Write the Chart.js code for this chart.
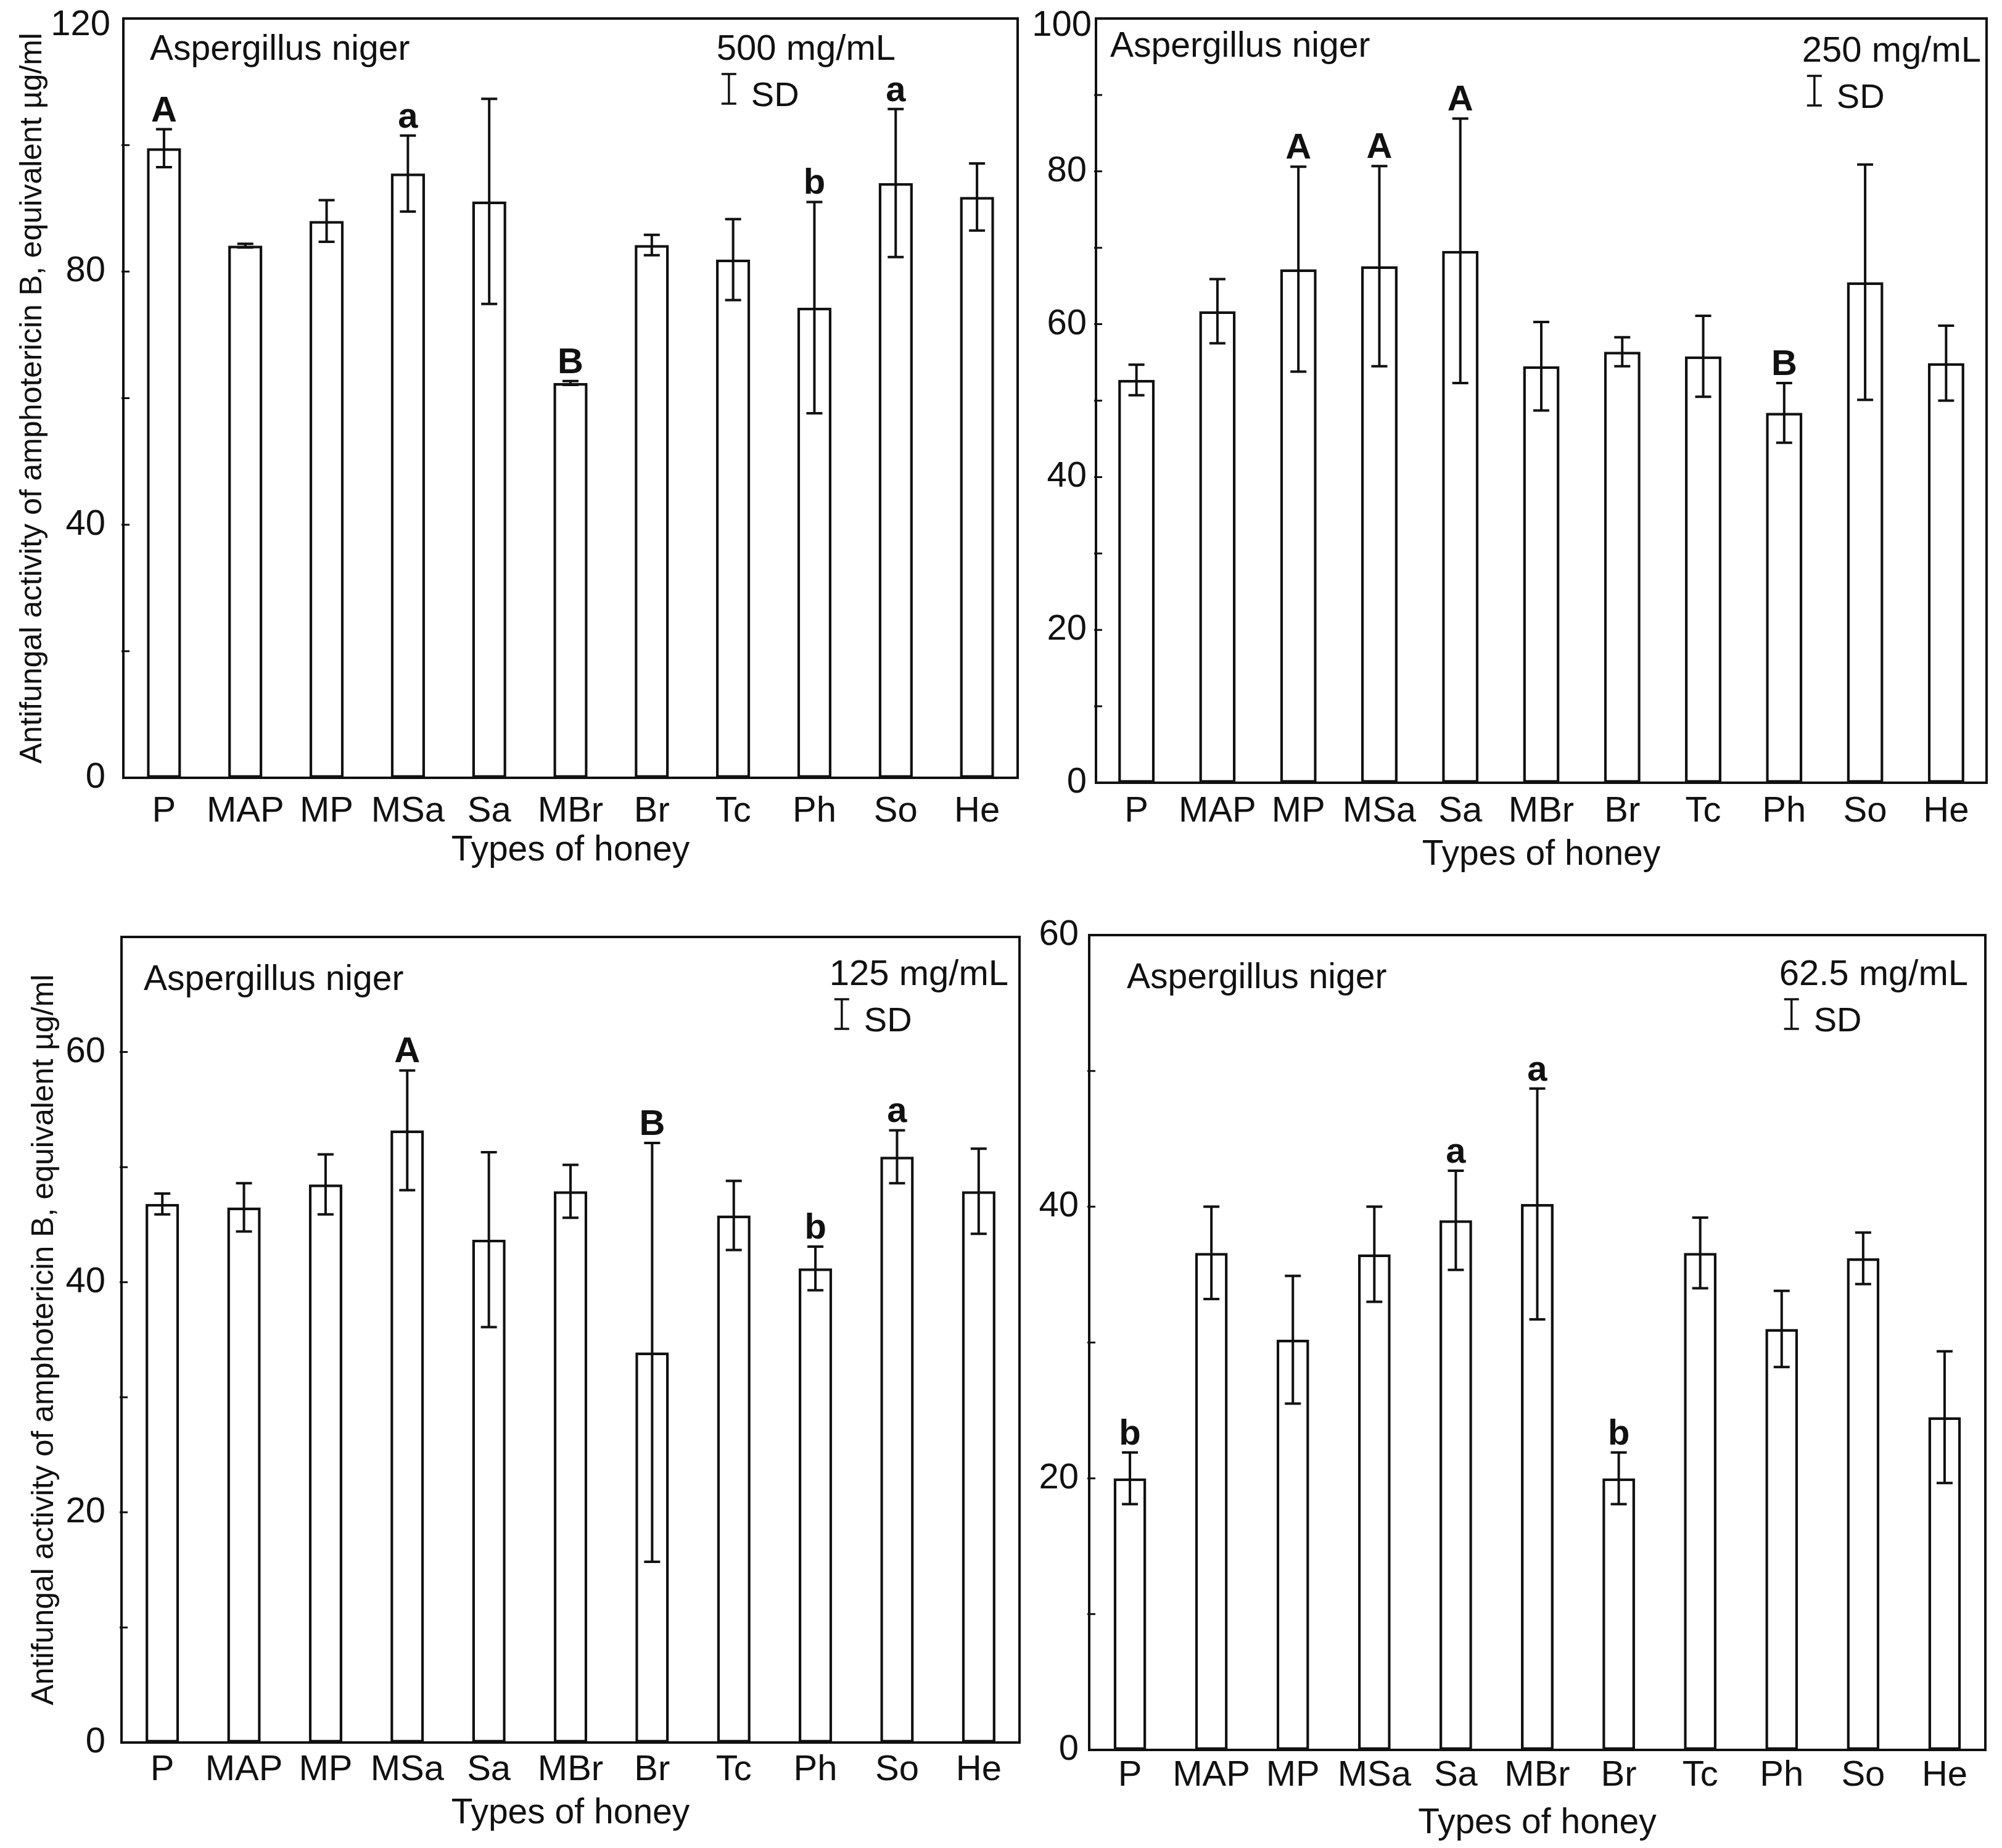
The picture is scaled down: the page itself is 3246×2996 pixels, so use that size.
<!DOCTYPE html>
<html><head><meta charset="utf-8">
<script src="https://cdn.jsdelivr.net/npm/chart.js@4/dist/chart.umd.min.js"></script>
<style>
html,body{margin:0;padding:0;background:#fff;}
#wrap{position:relative;width:3246px;height:2996px;background:#fff;}
canvas{position:absolute;}
</style>
</head><body><div id="wrap">
<canvas id="c1" width="1660" height="1440" style="left:0px;top:0px;width:1660px;height:1440px"></canvas>
<canvas id="c2" width="1586" height="1440" style="left:1660px;top:0px;width:1586px;height:1440px"></canvas>
<canvas id="c3" width="1660" height="1556" style="left:0px;top:1440px;width:1660px;height:1556px"></canvas>
<canvas id="c4" width="1586" height="1556" style="left:1660px;top:1440px;width:1586px;height:1556px"></canvas>
</div>
<script>
// ---------- DATA ----------
const categories = ['P','MAP','MP','MSa','Sa','MBr','Br','Tc','Ph','So','He'];
const species = 'Aspergillus niger';
const yTitle = 'Antifungal activity of amphotericin B, equivalent µg/ml';
const xTitle = 'Types of honey';
const sdLabel = 'SD';

const conc500 = '500 mg/mL';
const mean500 = [99.5, 84.1, 88.0, 95.5, 91.1, 62.4, 84.2, 81.9, 74.3, 94.0, 91.8];
const sd500   = [3.0, 0.3, 3.3, 6.0, 16.2, 0.3, 1.6, 6.4, 16.7, 11.7, 5.3];
const letters500 = ['A','','','a','','B','','','b','a',''];
const yMax500 = 120;
const yMajor500 = [0, 40, 80, 120];
const yMinor500 = [20, 60, 100];

const conc250 = '250 mg/mL';
const mean250 = [52.7, 61.7, 67.2, 67.6, 69.6, 54.5, 56.4, 55.8, 48.4, 65.5, 54.9];
const sd250   = [2.0, 4.2, 13.4, 13.1, 17.3, 5.8, 1.9, 5.3, 3.9, 15.4, 4.9];
const letters250 = ['','','A','A','A','','','','B','',''];
const yMax250 = 100;
const yMajor250 = [0, 20, 40, 60, 80, 100];
const yMinor250 = [10, 30, 50, 70, 90];

const conc125 = '125 mg/mL';
const mean125 = [46.8, 46.5, 48.5, 53.2, 43.7, 47.9, 33.9, 45.8, 41.2, 50.9, 47.9];
const sd125   = [0.9, 2.1, 2.6, 5.2, 7.6, 2.3, 18.2, 3.0, 1.9, 2.3, 3.7];
const letters125 = ['','','','A','','','B','','b','a',''];
const yMax125 = 70;
const yMajor125 = [0, 20, 40, 60];
const yMinor125 = [10, 30, 50];

const conc62 = '62.5 mg/mL';
const mean62 = [20.0, 36.6, 30.2, 36.5, 39.0, 40.2, 20.0, 36.6, 31.0, 36.2, 24.5];
const sd62   = [1.9, 3.4, 4.7, 3.5, 3.65, 8.5, 1.9, 2.6, 2.8, 1.9, 4.85];
const letters62 = ['b','','','','a','a','b','','','',''];
const yMax62 = 60;
const yMajor62 = [0, 20, 40, 60];
const yMinor62 = [10, 30, 50];

// ---------- RENDER ----------
const FONT = '"Liberation Sans", Arial, Helvetica, sans-serif';
const INK = '#111';
Chart.defaults.font.family = FONT;
Chart.defaults.color = INK;

function makePanel(id, d, L) {
  const annot = {
    id: 'annot_' + id,
    afterDatasetsDraw(chart) {
      const ctx = chart.ctx, ca = chart.chartArea, ys = chart.scales.y;
      const meta = chart.getDatasetMeta(0);
      ctx.save();
      ctx.strokeStyle = INK; ctx.fillStyle = INK;
      // error bars + letters
      ctx.lineWidth = 4;
      d.mean.forEach((m, i) => {
        const px = meta.data[i].x;
        const top = ys.getPixelForValue(m + d.sd[i]);
        const bot = ys.getPixelForValue(m - d.sd[i]);
        ctx.beginPath();
        ctx.moveTo(px, top); ctx.lineTo(px, bot);
        ctx.moveTo(px - 13, top); ctx.lineTo(px + 13, top);
        ctx.moveTo(px - 13, bot); ctx.lineTo(px + 13, bot);
        ctx.stroke();
        if (d.letters[i]) {
          ctx.font = 'bold 58px ' + FONT;
          ctx.textAlign = 'center'; ctx.textBaseline = 'alphabetic';
          ctx.fillText(d.letters[i], px, top - 13);
        }
      });
      // tick marks (crossing the left axis, mostly inward)
      ctx.lineWidth = 3;
      ctx.beginPath();
      ys.ticks.forEach(t => {
        if (t.value > 0 && t.value < d.yMax) {
          const py = ys.getPixelForValue(t.value);
          ctx.moveTo(ca.left - 3, py); ctx.lineTo(ca.left + 10, py);
        }
      });
      ctx.stroke();
      // top tick label, nudged down inside the page as in the original
      if (L.topShift) {
        ctx.font = '58px ' + FONT;
        ctx.textAlign = 'right'; ctx.textBaseline = 'middle';
        ctx.fillText(String(d.yMax), ca.left - L.yPad, ys.getPixelForValue(d.yMax) + L.topShift);
      }
      // frame
      ctx.lineWidth = 4;
      ctx.strokeRect(ca.left, ca.top, ca.right - ca.left, ca.bottom - ca.top);
      // texts
      ctx.textBaseline = 'alphabetic';
      ctx.font = '57px ' + FONT;
      ctx.textAlign = 'left';
      ctx.fillText(species, ca.left + L.spX, ca.top + L.spY);
      ctx.font = '58px ' + FONT;
      ctx.textAlign = 'right';
      ctx.fillText(d.conc, ca.right - L.cX, ca.top + L.cY);
      const cw = ctx.measureText(d.conc).width;
      const cLeft = ca.right - L.cX - cw;
      const b2 = ca.top + L.cY + 75;
      const ix = cLeft + 20;
      ctx.lineWidth = 3.5;
      ctx.beginPath();
      ctx.moveTo(ix, b2 - 52); ctx.lineTo(ix, b2 - 4);
      ctx.moveTo(ix - 12, b2 - 52); ctx.lineTo(ix + 12, b2 - 52);
      ctx.moveTo(ix - 12, b2 - 4); ctx.lineTo(ix + 12, b2 - 4);
      ctx.stroke();
      ctx.textAlign = 'left';
      ctx.font = '56px ' + FONT;
      ctx.fillText(sdLabel, ix + 36, b2);
      ctx.restore();
    }
  };

  return new Chart(document.getElementById(id), {
    type: 'bar',
    data: {
      labels: categories,
      datasets: [{
        data: d.mean,
        backgroundColor: '#ffffff',
        borderColor: INK,
        borderWidth: 4.5,
        borderSkipped: false,
        barPercentage: L.barPct,
        categoryPercentage: 1.0
      }]
    },
    options: {
      responsive: false,
      devicePixelRatio: 1,
      animation: false,
      events: [],
      layout: { padding: { top: L.padTop, right: L.padRight, left: 0, bottom: 0 } },
      plugins: { legend: { display: false }, tooltip: { enabled: false } },
      scales: {
        x: {
          grid: { display: false },
          border: { display: false },
          ticks: { autoSkip: false, maxRotation: 0, padding: L.xPad,
                   font: { size: 58, lineHeight: 1 }, color: INK },
          title: { display: true, text: xTitle, color: INK,
                   font: { size: 57, lineHeight: 1 }, padding: { top: 0, bottom: L.xtPad } },
          afterFit(s) { s.height = L.xH; }
        },
        y: {
          min: 0, max: d.yMax,
          grid: { display: false },
          border: { display: false },
          afterBuildTicks(s) {
            s.ticks = d.major.concat(d.minor).sort((a, b) => a - b).map(v => ({ value: v }));
          },
          ticks: {
            autoSkip: false, padding: L.yPad, color: INK,
            font: { size: 58, lineHeight: 0.1 },
            callback: (v) => (d.major.includes(v) && !(L.topShift && v === d.yMax)) ? String(v) : ''
          },
          title: { display: L.showYTitle, text: yTitle, color: INK,
                   font: { size: 50, lineHeight: 1 }, padding: { top: L.ytPad, bottom: 0 } },
          afterFit(s) { s.width = L.yW; }
        }
      }
    },
    plugins: [annot]
  });
}

makePanel('c1',
  { mean: mean500, sd: sd500, letters: letters500, conc: conc500, yMax: yMax500, major: yMajor500, minor: yMinor500 },
  { yW: 200, xH: 179, padTop: 30, padRight: 10, barPct: 0.42, xPad: 18, xtPad: 32, yPad: 21, showYTitle: true, ytPad: 28,
    topShift: 11, spX: 43, spY: 67, cX: 198, cY: 67 });

makePanel('c2',
  { mean: mean250, sd: sd250, letters: letters250, conc: conc250, yMax: yMax250, major: yMajor250, minor: yMinor250 },
  { yW: 117, xH: 171, padTop: 30, padRight: 25, barPct: 0.45, xPad: 10, xtPad: 25, yPad: 7, showYTitle: false, ytPad: 0,
    topShift: 12, spX: 23, spY: 62, cX: 9, cY: 70 });

makePanel('c3',
  { mean: mean125, sd: sd125, letters: letters125, conc: conc125, yMax: yMax125, major: yMajor125, minor: yMinor125 },
  { yW: 197, xH: 171, padTop: 79, padRight: 7, barPct: 0.41, xPad: 8, xtPad: 27, yPad: 18, showYTitle: true, ytPad: 47,
    topShift: 0, spX: 36, spY: 86, cX: 18, cY: 78 });

makePanel('c4',
  { mean: mean62, sd: sd62, letters: letters62, conc: conc62, yMax: yMax62, major: yMajor62, minor: yMinor62 },
  { yW: 106, xH: 159, padTop: 76, padRight: 27, barPct: 0.40, xPad: 5, xtPad: 11, yPad: 9, showYTitle: false, ytPad: 0,
    topShift: 0, spX: 61, spY: 86, cX: 28, cY: 81 });
</script>
</body></html>
